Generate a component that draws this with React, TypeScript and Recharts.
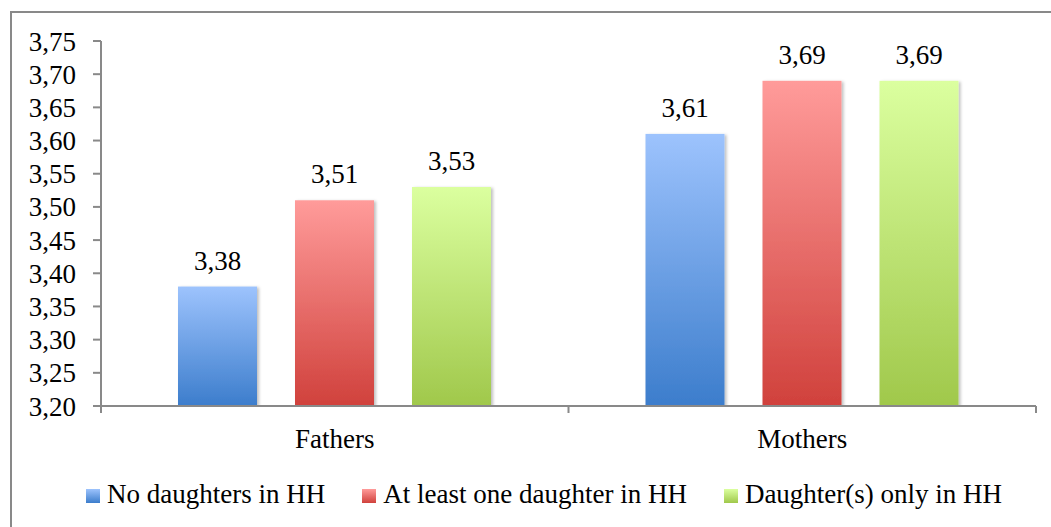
import React from "react";
import { BarChart, Bar, XAxis, YAxis, LabelList, Legend } from "recharts";

const CATEGORIES = ["Fathers", "Mothers"];
const NO_DAUGHTERS = [3.38, 3.61];
const AT_LEAST_ONE = [3.51, 3.69];
const DAUGHTERS_ONLY = [3.53, 3.69];
const Y_TICKS = [3.2, 3.25, 3.3, 3.35, 3.4, 3.45, 3.5, 3.55, 3.6, 3.65, 3.7, 3.75];

const SERIES = [
  { key: "none", name: "No daughters in HH", values: NO_DAUGHTERS, top: "#9dc3fd", bottom: "#3c7dcc" },
  { key: "one", name: "At least one daughter in HH", values: AT_LEAST_ONE, top: "#ff9b9a", bottom: "#d0413c" },
  { key: "only", name: "Daughter(s) only in HH", values: DAUGHTERS_ONLY, top: "#dbff9f", bottom: "#a0c84b" },
];

const data = CATEGORIES.map((c, i) => {
  const row: any = { category: c };
  SERIES.forEach((s) => (row[s.key] = s.values[i]));
  return row;
});

const FONT = "'Liberation Serif', 'Times New Roman', serif";
const AXIS = "#898989";
const W = 1039;
const H = 514;
const MARGIN = { top: 28, right: 15, left: 0, bottom: 13 };
const Y_WIDTH = 89;
const HALF_BAND = (W - MARGIN.left - MARGIN.right - Y_WIDTH) / CATEGORIES.length / 2;

const fmt = (v: any) => Number(v).toFixed(2).replace(".", ",");

function CategoryTick({ x, y, payload, index }: any) {
  const last = index === CATEGORIES.length - 1;
  return (
    <g>
      <line x1={x - HALF_BAND} x2={x - HALF_BAND} y1={y} y2={y + 7} stroke={AXIS} strokeWidth={2} />
      {last && <line x1={x + HALF_BAND} x2={x + HALF_BAND} y1={y} y2={y + 7} stroke={AXIS} strokeWidth={2} />}
      <text x={x} y={y + 42} textAnchor="middle" fontFamily={FONT} fontSize={27} fill="#000">
        {payload.value}
      </text>
    </g>
  );
}

function ShadowBar(props: any) {
  const { x, y, width, height, fill } = props;
  if (!height || height <= 0) return null;
  return <rect x={x} y={y} width={width} height={height} fill={fill} filter="url(#barShadow)" />;
}

function LegendContent() {
  return (
    <div
      style={{
        height: 40,
        width: W - 74,
        display: "flex",
        alignItems: "center",
        paddingLeft: 74,
        fontFamily: FONT,
        fontSize: 27,
        color: "#000",
        whiteSpace: "nowrap",
      }}
    >
      {SERIES.map((s) => (
        <div key={s.key} style={{ display: "flex", alignItems: "center", marginRight: 37, flexShrink: 0 }}>
          <div
            style={{
              width: 14,
              height: 14,
              marginRight: 7,
              marginTop: 3,
              background: `linear-gradient(${s.top}, ${s.bottom})`,
            }}
          />
          <span>{s.name}</span>
        </div>
      ))}
    </div>
  );
}

export default function App() {
  return (
    <div
      style={{
        position: "absolute",
        left: 10,
        top: 11,
        width: W,
        height: H,
        borderTop: `2px solid ${AXIS}`,
        borderLeft: `2px solid ${AXIS}`,
        background: "#fff",
      }}
    >
      <BarChart width={W} height={H} data={data} margin={MARGIN} barSize={79} barGap={38}>
        <defs>
          {SERIES.map((s) => (
            <linearGradient key={s.key} id={`grad-${s.key}`} x1="0" y1="0" x2="0" y2="1">
              <stop offset="0%" stopColor={s.top} />
              <stop offset="100%" stopColor={s.bottom} />
            </linearGradient>
          ))}
          <filter id="barShadow" x="-10%" y="-10%" width="130%" height="130%">
            <feDropShadow dx="2" dy="1" stdDeviation="1.5" floodColor="#000" floodOpacity="0.25" />
          </filter>
        </defs>
        <XAxis
          dataKey="category"
          height={68}
          axisLine={{ stroke: AXIS, strokeWidth: 2 }}
          tickLine={false}
          tickSize={0}
          tickMargin={0}
          tick={<CategoryTick />}
          interval={0}
        />
        <YAxis
          width={Y_WIDTH}
          domain={[3.2, 3.75]}
          ticks={Y_TICKS}
          interval={0}
          allowDataOverflow
          tickFormatter={fmt}
          axisLine={{ stroke: AXIS, strokeWidth: 2 }}
          tickLine={{ stroke: AXIS, strokeWidth: 2 }}
          tickSize={8}
          tickMargin={17}
          tick={{ fill: "#000", fontSize: 27, fontFamily: FONT }}
        />
        <Legend
          verticalAlign="bottom"
          align="left"
          wrapperStyle={{ left: 0, width: W }}
          content={<LegendContent />}
        />
        {SERIES.map((s) => (
          <Bar
            key={s.key}
            dataKey={s.key}
            name={s.name}
            fill={`url(#grad-${s.key})`}
            shape={<ShadowBar />}
            isAnimationActive={false}
          >
            <LabelList
              dataKey={s.key}
              position="top"
              offset={17}
              formatter={fmt}
              style={{ fill: "#000", fontSize: 27, fontFamily: FONT }}
            />
          </Bar>
        ))}
      </BarChart>
    </div>
  );
}
